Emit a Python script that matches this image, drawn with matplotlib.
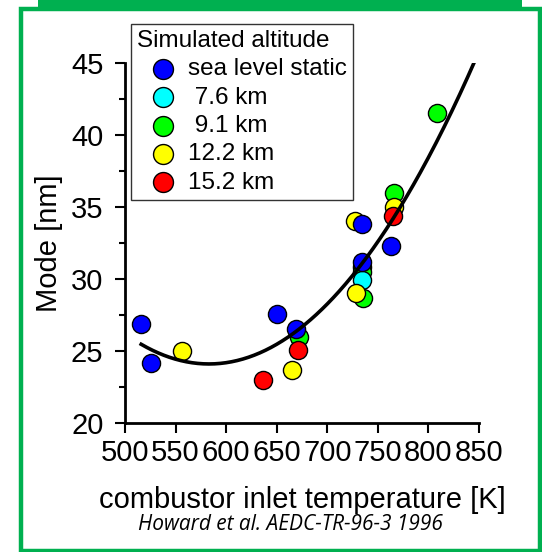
import numpy as np
import matplotlib
matplotlib.use("Agg")
import matplotlib.pyplot as plt
from matplotlib.patches import Rectangle

plt.rcParams['font.family'] = ['Liberation Sans', 'DejaVu Sans']

# Howard et al. 1996: particle size mode vs combustor inlet temperature
sls_T = [516, 526, 650, 669, 734, 734, 763]
sls_mode = [26.9, 24.2, 27.6, 26.5, 33.8, 31.2, 32.3]

km76_T = [734]
km76_mode = [29.9]

km91_T = [808, 766, 734, 734, 735, 672]
km91_mode = [41.5, 36.0, 30.8, 30.5, 28.7, 26.0]

km122_T = [556, 665, 728, 727, 766]
km122_mode = [25.0, 23.7, 29.0, 34.0, 35.0]

km152_T = [636, 671, 765]
km152_mode = [23.0, 25.1, 34.4]

# quadratic trend: mode = curv * (T - T0)^2 + mode0
fit_T0 = 583.0
fit_mode0 = 24.1
fit_curv = 3.045e-4

series = [
    (sls_T, sls_mode, "#0000ff", "sea level static", 7),
    (km76_T, km76_mode, "#00ffff", " 7.6 km", 4),
    (km91_T, km91_mode, "#00ff00", " 9.1 km", 3),
    (km122_T, km122_mode, "#ffff00", "12.2 km", 5),
    (km152_T, km152_mode, "#ff0000", "15.2 km", 6),
]

W, H = 542, 552
fig = plt.figure(figsize=(W / 100, H / 100), dpi=100)
ax = fig.add_axes([125 / W, 1 - 423 / H, 354 / W, 360 / H])

for T, m, c, lab, z in series:
    ax.scatter(T, m, s=170, c=c, edgecolors="black", linewidths=1.0,
               label=lab, zorder=z, clip_on=False)

all_T = np.concatenate([s[0] for s in series])
tt = np.linspace(all_T.min(), 850, 300)
ax.plot(tt, fit_curv * (tt - fit_T0) ** 2 + fit_mode0, color="black", lw=2.6, zorder=10)

ax.set_xlim(500, 850)
ax.set_ylim(20, 45)
ax.set_xticks(np.arange(500, 851, 50))
ax.set_yticks(np.arange(20, 46, 5))
ax.set_yticks(np.arange(22.5, 45, 5), minor=True)
ax.tick_params(axis="both", which="major", direction="out", length=7.5, width=1.5,
               labelsize=21)
ax.tick_params(axis="y", which="minor", direction="out", length=4, width=1.5)
ax.tick_params(axis="x", pad=4)
ax.tick_params(axis="y", pad=8)
for s in ["top", "right"]:
    ax.spines[s].set_visible(False)
for s in ["left", "bottom"]:
    ax.spines[s].set_linewidth(2)

ax.set_xlabel("combustor inlet temperature [K]", fontsize=21, labelpad=14)
ax.set_ylabel("Mode [nm]", fontsize=21, labelpad=6)

leg = ax.legend(title="Simulated altitude", loc="upper left",
                bbox_to_anchor=(131 / W, 1 - 24 / H), bbox_transform=fig.transFigure,
                fontsize=17.5, title_fontsize=17.5, frameon=True, fancybox=False,
                edgecolor="black", borderpad=0.25, labelspacing=0.26,
                handlelength=2.1, handletextpad=0.0, borderaxespad=0,
                scatterpoints=1, markerscale=1.1)
leg._legend_box.align = "left"
leg.get_frame().set_linewidth(1.0)

fig.text(0.5 * (133 + 448) / W, 1 - 524 / H, "Howard et al. AEDC-TR-96-3 1996",
         fontsize=15, style="italic", family=["Open Sans", "DejaVu Sans"],
         ha="center", va="center")

# green frame around the figure
green = "#00b050"
fig.patches.append(Rectangle((20.5 / W, 1 - 550.5 / H), 519 / W, 541.5 / H,
                             transform=fig.transFigure, fill=False,
                             edgecolor=green, lw=3.2))
fig.patches.append(Rectangle((38 / W, 1 - 9 / H), 484 / W, 9 / H,
                             transform=fig.transFigure, facecolor=green,
                             edgecolor="none"))

fig.savefig("out.png", dpi=100)
